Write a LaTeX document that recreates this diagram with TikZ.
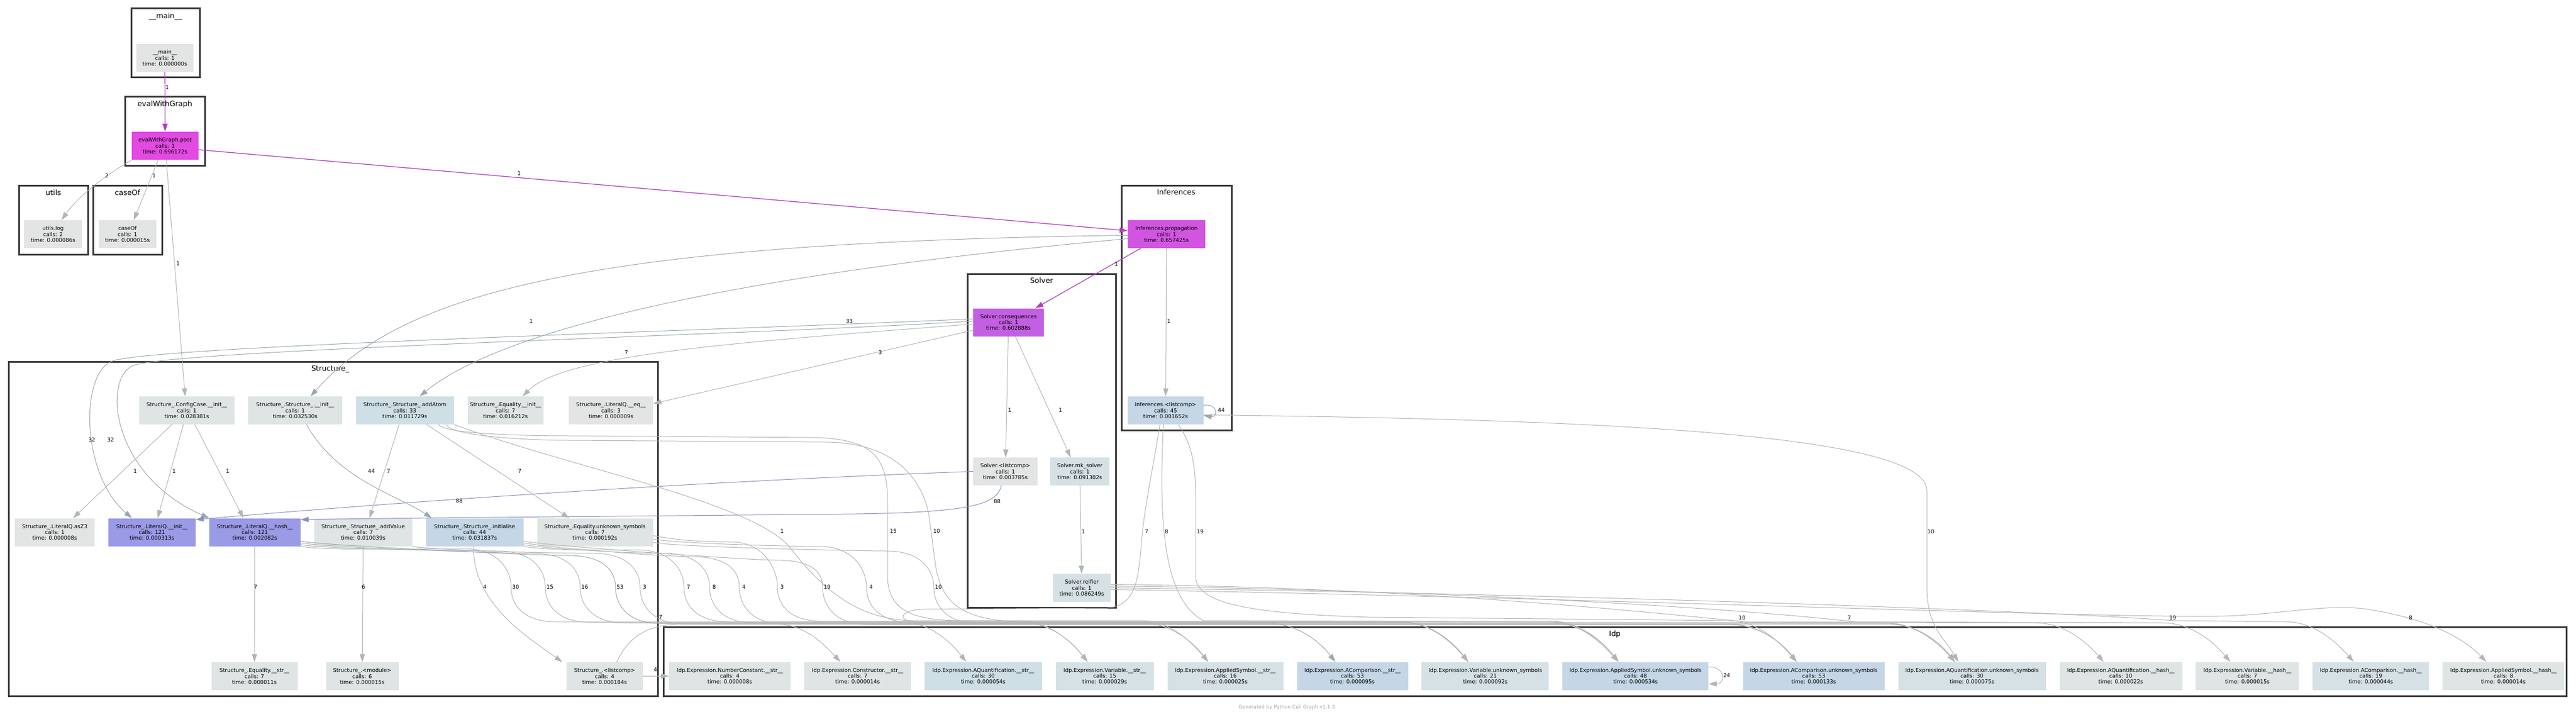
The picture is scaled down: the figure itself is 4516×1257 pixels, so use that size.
\documentclass[tikz,border=0pt]{standalone}
\usepackage{fontspec}
\setmainfont{DejaVu Sans}
\usetikzlibrary{arrows.meta,positioning}
\definecolor{clusline}{HTML}{383838}
\definecolor{ng0}{HTML}{E3E5E5}
\definecolor{ng1}{HTML}{DFE4E5}
\definecolor{ng2}{HTML}{D6E1E6}
\definecolor{ng3}{HTML}{CFDFE6}
\definecolor{ng4}{HTML}{C5D7E6}
\definecolor{lav}{HTML}{9A9AE6}
\definecolor{mag1}{HTML}{E24AE2}
\definecolor{mag2}{HTML}{D255E2}
\definecolor{mag3}{HTML}{C35FE2}
\definecolor{edgegrey}{HTML}{B3B5B5}
\definecolor{edgeblue}{HTML}{9AA8B0}
\definecolor{edgelav}{HTML}{8890C0}
\definecolor{edgehot}{HTML}{B040C0}
\definecolor{footgrey}{HTML}{A6A6A6}
\newcommand{\fcall}[3]{#1\\calls: #2\\time: #3s}
\newcommand{\sedge}[7][call]{%
  \draw[#1] (#2) .. controls +(40,8) and +(-50,0) .. (#4-90,#3)
    .. controls +(60,0) and +(0,-29) .. (#4-8,1029)
    .. controls +(0,33) and +(-55,0) .. (#4+70,#5)
    -- (#7-115,#5) .. controls +(50,0) and +(-28,-36) .. ([xshift=-30pt]#6.north);}

\begin{document}
\begin{tikzpicture}[x=1pt,y=-1pt,node distance=23.5pt]
    \tikzset{
      fn/.style={rectangle,fill=ng0,align=center,font=\fontsize{9.4}{10.3}\selectfont,minimum height=49pt,inner xsep=3pt},
      wd/.style={minimum width=#1pt},
      clus/.style={draw=clusline,line width=3pt},
      ctitle/.style={font=\fontsize{12.9}{14}\selectfont,inner sep=0pt},
      call/.style={draw=edgegrey,line width=1pt,-{Triangle[length=14pt,width=9pt]}},
      bcall/.style={call,draw=edgeblue},
      lcall/.style={call,draw=edgelav},
      hcall/.style={call,draw=edgehot,line width=1.3pt},
      lbl/.style={font=\fontsize{9.4}{10.3}\selectfont,inner sep=0pt}
    }
    \useasboundingbox (0,0) rectangle (4516,1257);
    \fill[white] (0,0) rectangle (4516,1257);

    \draw[clus] (230,15) rectangle (350,136);
    \draw[clus] (219,170) rectangle (359,291);
    \draw[clus] (33,325) rectangle (154,446);
    \draw[clus] (163,325) rectangle (284,446);
    \draw[clus] (1966,325) rectangle (2159,754);
    \draw[clus] (1696,480) rectangle (1956,1065);
    \draw[clus] (15,634) rectangle (1153,1220);
    \draw[clus] (1163,1099) rectangle (4499,1220);
    \node[ctitle] (tmain) at (290,29) {\_\_main\_\_};
    \node[ctitle] (teval) at (289,183) {evalWithGraph};
    \node[ctitle] (tutils) at (93.5,338) {utils};
    \node[ctitle] (tcase) at (223.5,338) {caseOf};
    \node[ctitle] (tinf) at (2062,337) {Inferences};
    \node[ctitle] (tsolv) at (1826,492) {Solver};
    \node[ctitle] (tstruct) at (579,647) {Structure\_};
    \node[ctitle] (tidp) at (2831,1112) {Idp};

    \node[fn,wd=100] (main) at (289,101.5) {\fcall{\_\_main\_\_}{1}{0.000000}};
    \node[fn,wd=117,fill=mag1] (evalpost) at (289.5,255.5) {\fcall{evalWithGraph.post}{1}{0.696172}};
    \node[fn,wd=102] (utilslog) at (93,410.5) {\fcall{utils.log}{2}{0.000086}};
    \node[fn,wd=101] (caseof) at (223.5,410.5) {\fcall{caseOf}{1}{0.000015}};
    \node[fn,wd=136,fill=mag2] (propag) at (2045,410.5) {\fcall{Inferences.propagation}{1}{0.657425}};
    \node[fn,wd=124,fill=mag3] (conseq) at (1768,565) {\fcall{Solver.consequences}{1}{0.602888}};
    \node[fn,wd=133,fill=ng4] (inflist) at (2043.5,719.5) {\fcall{Inferences.<listcomp>}{45}{0.001652}};
    \node[fn,wd=113] (solvlist) at (1762.5,826.5) {\fcall{Solver.<listcomp>}{1}{0.003785}};
    \node[fn,wd=104,fill=ng2] (mksolver) at (1893,826.5) {\fcall{Solver.mk\_solver}{1}{0.091302}};
    \node[fn,wd=101,fill=ng2] (reifier) at (1896.5,1030.5) {\fcall{Solver.reifier}{1}{0.086249}};

    \node[fn,wd=167,fill=ng1] (configinit) at (327.5,719.5) {\fcall{Structure\_.ConfigCase.\_\_init\_\_}{1}{0.028381}};
    \node[fn,wd=165,fill=ng1] (structinit) [right=of configinit] {\fcall{Structure\_.Structure\_.\_\_init\_\_}{1}{0.032530}};
    \node[fn,wd=172,fill=ng3] (addatom) [right=of structinit] {\fcall{Structure\_.Structure\_.addAtom}{33}{0.011729}};
    \node[fn,wd=133,fill=ng1] (eqinit) [right=of addatom] {\fcall{Structure\_.Equality.\_\_init\_\_}{7}{0.016212}};
    \node[fn,wd=148] (liteq) [right=44pt of eqinit] {\fcall{Structure\_.LiteralQ.\_\_eq\_\_}{3}{0.000009}};
    \node[fn,wd=140] (asz3) at (96,933) {\fcall{Structure\_.LiteralQ.asZ3}{1}{0.000008}};
    \node[fn,wd=153,fill=lav] (litinit) [right=of asz3] {\fcall{Structure\_.LiteralQ.\_\_init\_\_}{121}{0.000313}};
    \node[fn,wd=160,fill=lav] (lithash) [right=of litinit] {\fcall{Structure\_.LiteralQ.\_\_hash\_\_}{121}{0.002082}};
    \node[fn,wd=172,fill=ng1] (addvalue) [right=of lithash] {\fcall{Structure\_.Structure\_.addValue}{7}{0.010039}};
    \node[fn,wd=171,fill=ng4] (initialise) [right=of addvalue] {\fcall{Structure\_.Structure\_.initialise}{44}{0.031837}};
    \node[fn,wd=203,fill=ng1] (equnk) [right=of initialise] {\fcall{Structure\_.Equality.unknown\_symbols}{7}{0.000192}};
    \node[fn,wd=151,fill=ng1] (eqstr) at (446,1185.5) {\fcall{Structure\_.Equality.\_\_str\_\_}{7}{0.000011}};
    \node[fn,wd=127,fill=ng1] (module) at (635,1185.5) {\fcall{Structure\_.<module>}{6}{0.000015}};
    \node[fn,wd=134,fill=ng1] (slist) at (1060,1185.5) {\fcall{Structure\_.<listcomp>}{4}{0.000184}};

    \node[fn,wd=213,fill=ng1] (numstr) at (1279.5,1185) {\fcall{Idp.Expression.NumberConstant.\_\_str\_\_}{4}{0.000008}};
    \node[fn,wd=187,fill=ng1] (consstr) [right=of numstr] {\fcall{Idp.Expression.Constructor.\_\_str\_\_}{7}{0.000014}};
    \node[fn,wd=206,fill=ng3] (aqstr) [right=of consstr] {\fcall{Idp.Expression.AQuantification.\_\_str\_\_}{30}{0.000054}};
    \node[fn,wd=172,fill=ng2] (varstr) [right=of aqstr] {\fcall{Idp.Expression.Variable.\_\_str\_\_}{15}{0.000029}};
    \node[fn,wd=203,fill=ng2] (apstr) [right=of varstr] {\fcall{Idp.Expression.AppliedSymbol.\_\_str\_\_}{16}{0.000025}};
    \node[fn,wd=195,fill=ng4] (acstr) [right=of apstr] {\fcall{Idp.Expression.AComparison.\_\_str\_\_}{53}{0.000095}};
    \node[fn,wd=223,fill=ng2] (varunk) [right=of acstr] {\fcall{Idp.Expression.Variable.unknown\_symbols}{21}{0.000092}};
    \node[fn,wd=256,fill=ng4] (apunk) [right=of varunk] {\fcall{Idp.Expression.AppliedSymbol.unknown\_symbols}{48}{0.000534}};
    \node[fn,wd=248,fill=ng4] (acunk) [right=60pt of apunk] {\fcall{Idp.Expression.AComparison.unknown\_symbols}{53}{0.000133}};
    \node[fn,wd=259,fill=ng2] (aqunk) [right=of acunk] {\fcall{Idp.Expression.AQuantification.unknown\_symbols}{30}{0.000075}};
    \node[fn,wd=215,fill=ng1] (aqhash) [right=of aqunk] {\fcall{Idp.Expression.AQuantification.\_\_hash\_\_}{10}{0.000022}};
    \node[fn,wd=181,fill=ng1] (varhash) [right=of aqhash] {\fcall{Idp.Expression.Variable.\_\_hash\_\_}{7}{0.000015}};
    \node[fn,wd=204,fill=ng2] (achash) [right=of varhash] {\fcall{Idp.Expression.AComparison.\_\_hash\_\_}{19}{0.000044}};
    \node[fn,wd=213,fill=ng1] (aphash) [right=of achash] {\fcall{Idp.Expression.AppliedSymbol.\_\_hash\_\_}{8}{0.000014}};

    \draw[hcall] (main) -- (evalpost);
    \draw[hcall] ([yshift=-7pt]evalpost.east) -- ([yshift=6pt]propag.west);
    \draw[hcall] ([xshift=-45pt]propag.south) -- ([xshift=47pt]conseq.north);
    \draw[call] (evalpost.south west) .. controls (190,305) and (140,340) .. ([xshift=15pt]utilslog.north);
    \draw[call] ([xshift=-12pt]evalpost.south) -- ([xshift=11pt]caseof.north);
    \draw[call] ([xshift=2pt]evalpost.south) .. controls (305,450) .. ([xshift=-3pt]configinit.north);
    \draw[call] (propag) -- (inflist);
    \draw[bcall] ([yshift=-2pt]propag.west) .. controls (1000,425) and (700,520) .. ([xshift=27pt]structinit.north);
    \draw[bcall] ([yshift=-8pt]propag.west) .. controls (1400,470) and (900,560) .. ([xshift=26pt]addatom.north);
    \draw[bcall] ([yshift=6pt]conseq.west) .. controls (1300,578) and (300,605) .. (200,632) .. controls (140,648) and (140,830) .. ([xshift=-35pt]litinit.north);
    \draw[bcall] ([yshift=2pt]conseq.west) .. controls (1300,588) and (330,612) .. (236,640) .. controls (180,657) and (190,830) .. (lithash.north west);
    \draw[call] ([yshift=-3pt]conseq.west) .. controls (1300,600) and (990,620) .. ([xshift=30pt]eqinit.north);
    \draw[call] ([yshift=-14pt]conseq.west) -- ([yshift=12pt]liteq.east);
    \draw[call] (conseq) -- (solvlist);
    \draw[call] ([xshift=12pt]conseq.south) -- ([xshift=-16pt]mksolver.north);
    \draw[call] (mksolver) -- (reifier);
    \draw[lcall] (solvlist.west) .. controls (1200,845) and (700,880) .. ([yshift=22pt]litinit.east);
    \draw[lcall] ([xshift=-7pt]solvlist.south) .. controls (1748,885) and (1700,898) .. (1500,901) .. controls (1000,906) and (700,908) .. ([yshift=22pt]lithash.east);

    \draw[call] ([xshift=-26pt]configinit.south) -- ([xshift=32pt]asz3.north);
    \draw[call] ([xshift=-6pt]configinit.south) -- ([xshift=10pt]litinit.north);
    \draw[call] ([xshift=14pt]configinit.south) -- ([xshift=-20pt]lithash.north);
    \draw[bcall] ([xshift=20pt]structinit.south) .. controls (590,840) and (700,870) .. ([xshift=-75pt]initialise.north);
    \draw[call] ([xshift=-10pt]addatom.south) -- ([xshift=11pt]addvalue.north);
    \draw[call] ([xshift=38pt]addatom.south) -- ([xshift=-45pt]equnk.north);
    \draw[call] (lithash) -- (eqstr);
    \draw[call] (addvalue) -- (module);
    \draw[call] ([xshift=-2pt]initialise.south) .. controls (828,1060) and (930,1120) .. ([xshift=-7pt]slist.north west);
    \draw[call] (slist) -- (numstr);
    \draw[call] ([xshift=21pt]slist.north) .. controls (1100,1120) and (1130,1096) .. (1190,1094) -- (1360,1094) .. controls (1410,1095) and (1440,1125) .. ([xshift=-30pt]consstr.north);

    \sedge{lithash.south east}{962}{904}{1090}{aqstr}{1693}
    \sedge{[yshift=3pt]lithash.south east}{966}{964}{1091}{varstr}{1905.5}
    \sedge{[yshift=6pt]lithash.south east}{970}{1025}{1092}{apstr}{2116.5}
    \sedge[bcall]{[yshift=9pt]lithash.south east}{974}{1087}{1093}{acstr}{2339}
    \sedge{addvalue.south east}{970}{1130}{1094}{acunk}{3146.5}
    \sedge{initialise.south east}{964}{1207}{1090}{varunk}{2571.5}
    \sedge{[yshift=3pt]initialise.south east}{970}{1252}{1092}{apunk}{2834.5}
    \sedge{[yshift=6pt]initialise.south east}{976}{1304}{1094}{aqunk}{3423.5}
    \sedge{[yshift=-6pt]equnk.east}{950}{1371}{1089}{apunk}{2834.5}
    \sedge{[yshift=9pt]initialise.south east}{982}{1450}{1095}{acunk}{3146.5}
    \sedge{[yshift=-12pt]equnk.east}{958}{1527}{1091}{varunk}{2571.5}
    \sedge{[yshift=-18pt]equnk.east}{966}{1645}{1093}{aqunk}{3423.5}

    \draw[call] (addatom.south east) .. controls (1000,820) and (1320,880) .. (1385,960) .. controls (1440,1030) and (1500,1086) .. (1600,1088) -- (2001,1088) .. controls (2051,1088) and (2088,1125) .. ([xshift=-30pt]apstr.north);
    \draw[call] ([xshift=-27pt]addatom.south east) .. controls +(10,18) and +(-60,0) .. (1000,764) -- (1420,767) .. controls (1530,768) and (1556,800) .. (1556,880) -- (1556,1010) .. controls (1556,1070) and (1600,1087) .. (1680,1088) -- (1791,1089) .. controls (1841,1090) and (1878,1125) .. ([xshift=-30pt]varstr.north);
    \draw[call] ([xshift=-14pt]addatom.south east) .. controls +(10,22) and +(-60,0) .. (1000,772) -- (1450,775) .. controls (1570,777) and (1615,840) .. (1628,900) -- (1640,990) .. controls (1650,1060) and (1690,1085) .. (1780,1090) -- (3308,1092) .. controls (3358,1093) and (3395,1125) .. ([xshift=-30pt]aqunk.north);

    \draw[call] ([xshift=-10pt]inflist.south) .. controls (2025,800) and (2008,880) .. (2002,940) .. controls (1996,1010) and (1995,1062) .. (1940,1066) -- (1620,1068) .. controls (1580,1069) and (1566,1088) .. (1610,1091) -- (2457,1091) .. controls (2507,1091) and (2544,1125) .. ([xshift=-30pt]varunk.north);
    \draw[call] ([xshift=-4pt]inflist.south) .. controls (2032,900) and (2036,1050) .. (2110,1088) -- (2718,1090) .. controls (2768,1090) and (2805,1125) .. ([xshift=-30pt]apunk.north);
    \draw[call] ([xshift=22pt]inflist.south) .. controls (2098,790) and (2096,840) .. (2096,900) -- (2096,1010) .. controls (2096,1060) and (2200,1076) .. (2400,1082) -- (3032,1088) .. controls (3082,1089) and (3119,1125) .. ([xshift=-30pt]acunk.north);
    \draw[call] ([yshift=-8pt]inflist.east) .. controls (2800,735) and (3378,760) .. (3378,860) -- (3378,1030) .. controls (3378,1100) and (3410,1120) .. ([xshift=-24pt]aqunk.north);
    \draw[bcall] ([yshift=9pt]inflist.east) .. controls +(25,-4) and +(25,4) .. ([yshift=-9pt]inflist.east);

    \draw[call] ([yshift=6pt]reifier.east) .. controls (2500,1030) and (2900,1075) .. (3060,1090) -- (3570,1092) .. controls (3620,1093) and (3657,1125) .. ([xshift=-30pt]aqhash.north);
    \draw[call] ([yshift=3pt]reifier.east) .. controls (2600,1035) and (3100,1072) .. (3250,1090) -- (3793,1092) .. controls (3843,1093) and (3880,1125) .. ([xshift=-30pt]varhash.north);
    \draw[call] (reifier.east) .. controls (2800,1042) and (3600,1072) .. (3810,1088) -- (4008,1090) .. controls (4058,1091) and (4095,1125) .. ([xshift=-30pt]achash.north);
    \draw[call] ([yshift=-3pt]reifier.east) .. controls (2800,1048) and (3700,1085) .. (3900,1080) .. controls (4000,1077) and (4080,1058) .. (4150,1068) .. controls (4240,1082) and (4310,1110) .. ([xshift=-30pt]aphash.north);
    \draw[call] ([yshift=16pt]apunk.east) .. controls +(30,0) and +(30,0) .. ([yshift=-14pt]apunk.east);

    \foreach \lx/\ly/\lt [count=\i] in {293/153/1, 910/304/1, 187/308/2, 270/308/1, 312/462/1,
      1957/463/1, 2049/563/1, 931/563/1, 1489/563/33, 1098/618/7, 1543/618/3,
      161/771/32, 194/771/32, 237/826/1, 305/826/1, 399/826/1, 651/826/44, 681/826/7, 911/826/7,
      805/878/88, 1748/879/88, 1770/719/1, 1859/719/1, 2141/719/44,
      1371/931/1, 1566/931/15, 1642/931/10, 1899/932/1, 2010/932/7, 2045/932/8, 2104/932/19, 3385/932/10,
      448/1029/7, 637/1029/6, 850/1029/4, 904/1029/30, 964/1029/15, 1025/1029/16, 1087/1029/53,
      1130/1029/3, 1207/1029/7, 1252/1029/8, 1304/1029/4, 1371/1029/3, 1450/1029/19, 1527/1029/4, 1645/1029/10,
      1158/1082/7, 1149/1174/4, 3054/1083/10, 3242/1083/7, 3809/1083/19, 4226/1083/8, 3027/1184/24}
      \node[lbl] (lab\i) at (\lx,\ly) {\lt};

    \node[font=\fontsize{8.6}{10}\selectfont,text=footgrey] (credit) at (2256,1240) {Generated by Python Call Graph v1.1.3};
\end{tikzpicture}
\end{document}
